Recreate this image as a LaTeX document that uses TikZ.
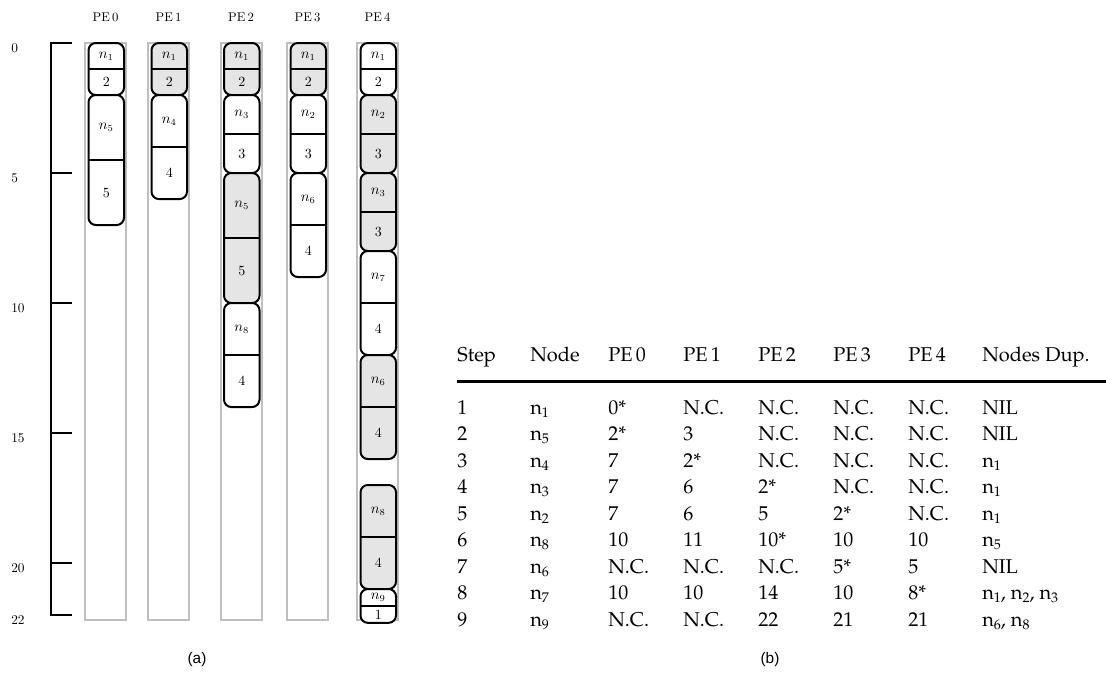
\documentclass[tikz,border=0pt]{standalone}
\usepackage{fontspec}
\newfontfamily\capfont{Liberation Sans}
\newcommand\palfont{\fontencoding{OT1}\fontfamily{ppl}\selectfont}
\newcommand\nsub[1]{n\raisebox{-2.5pt}{\fontsize{10.5}{12}\selectfont #1}}
\newcommand\ty[1]{43+26*(#1)}

\begin{document}
\begin{tikzpicture}[x=0.75pt,y=-0.75pt,
  pecol/.style={draw=black!25,line width=1.5pt},
  task/.style={draw,line width=1.5pt,rounded corners=5.5pt},
  axis/.style={line width=1.5pt},
  pelab/.style={font=\fontsize{9.5}{11}\selectfont,inner sep=0pt},
  ticklab/.style={anchor=west,font=\fontsize{10}{11}\selectfont,inner sep=0pt},
  tasklab/.style={font=\fontsize{10.5}{12}\selectfont,inner sep=0pt},
  cell/.style={anchor=base west,inner sep=0pt,font=\palfont\fontsize{15}{18}\selectfont},
  capt/.style={font=\capfont\fontsize{11.5}{13}\selectfont,inner sep=0pt}]
  \useasboundingbox (0,0) rectangle (1106,678);

  % (a) schedule on the five PEs
  \draw[axis] (72,{\ty{0}}) -- (51,{\ty{0}}) -- (51,{\ty{22}}) -- (72,{\ty{22}});
  \foreach \t in {5,10,15,20}
    \draw[axis] (51,{\ty{\t}}) -- (72,{\ty{\t}});
  \foreach \t in {0,5,10,15,20,22}
    \node[ticklab] (tk\t) at (11,{\ty{\t}+5}) {\t};

  \foreach \px/\i in {85/0,148/1,220.5/2,287/3,357/4} {
    \draw[pecol] (\px,43) rectangle ({\px+41},620);
    \node[pelab] (pe\i) at ({\px+20.5},17) {PE\,\i};
  }

  \foreach \px/\ta/\tb/\lab/\dur/\fc [count=\k] in {
      85/0/2/1/2/white, 85/2/7/5/5/white,
      148/0/2/1/2/black!10, 148/2/6/4/4/white,
      220.5/0/2/1/2/black!10, 220.5/2/5/3/3/white, 220.5/5/10/5/5/black!10, 220.5/10/14/8/4/white,
      287/0/2/1/2/black!10, 287/2/5/2/3/white, 287/5/9/6/4/white,
      357/0/2/1/2/white, 357/2/5/2/3/black!10, 357/5/8/3/3/black!10, 357/8/12/7/4/white,
      357/12/16/6/4/black!10, 357/17/21/8/4/black!10, 357/21/22.3/9/1/white} {
    \draw[task,fill=\fc] ({\px+3.5},{\ty{\ta}}) rectangle ({\px+39},{\ty{\tb}});
    \draw[line width=1.5pt] ({\px+3.5},{\ty{(\ta+\tb)/2}}) -- ({\px+39},{\ty{(\ta+\tb)/2}});
    \node[tasklab] (lab\k) at ({\px+21.25},{\ty{0.75*\ta+0.25*\tb}}) {$n_{\lab}$};
    \node[tasklab] (dur\k) at ({\px+21.25},{\ty{0.25*\ta+0.75*\tb}}) {\dur};
  }
  \node[capt] (cap-a) at (197,660) {(a)};

  % (b) table of steps
  \foreach \cx/\h [count=\j] in {457/Step,530/Node,608/PE\,0,683/PE\,1,758/PE\,2,833/PE\,3,908/PE\,4,982/Nodes Dup.}
    \node[cell] (h\j) at (\cx,361) {\h};
  \coordinate (rl) at (457,381.5);
  \coordinate (rr) at (1106,381.5);
  \draw[line width=2pt] (rl) -- (rr);

  \foreach \s/\nn/\a/\b/\c/\d/\e/\dup in {
      1/1/0*/N.C./N.C./N.C./N.C./NIL,
      2/5/2*/3/N.C./N.C./N.C./NIL,
      3/4/7/2*/N.C./N.C./N.C./\nsub{1},
      4/3/7/6/2*/N.C./N.C./\nsub{1},
      5/2/7/6/5/2*/N.C./\nsub{1},
      6/8/10/11/10*/10/10/\nsub{5},
      7/6/N.C./N.C./N.C./5*/5/NIL,
      8/7/10/10/14/10/8*/{\nsub{1}, \nsub{2}, \nsub{3}},
      9/9/N.C./N.C./22/21/21/{\nsub{6}, \nsub{8}}} {
    \pgfmathsetmacro\ry{414+26.5*(\s-1)}
    \node[cell] (st\s) at (457,\ry) {\s};
    \node[cell] (nd\s) at (530,\ry) {\nsub{\nn}};
    \node[cell] (pa\s) at (608,\ry) {\a};
    \node[cell] (pb\s) at (683,\ry) {\b};
    \node[cell] (pc\s) at (758,\ry) {\c};
    \node[cell] (pd\s) at (833,\ry) {\d};
    \node[cell] (pe\s) at (908,\ry) {\e};
    \node[cell] (du\s) at (982,\ry) {\dup};
  }
  \node[capt] (cap-b) at (770,660) {(b)};
\end{tikzpicture}
\end{document}
